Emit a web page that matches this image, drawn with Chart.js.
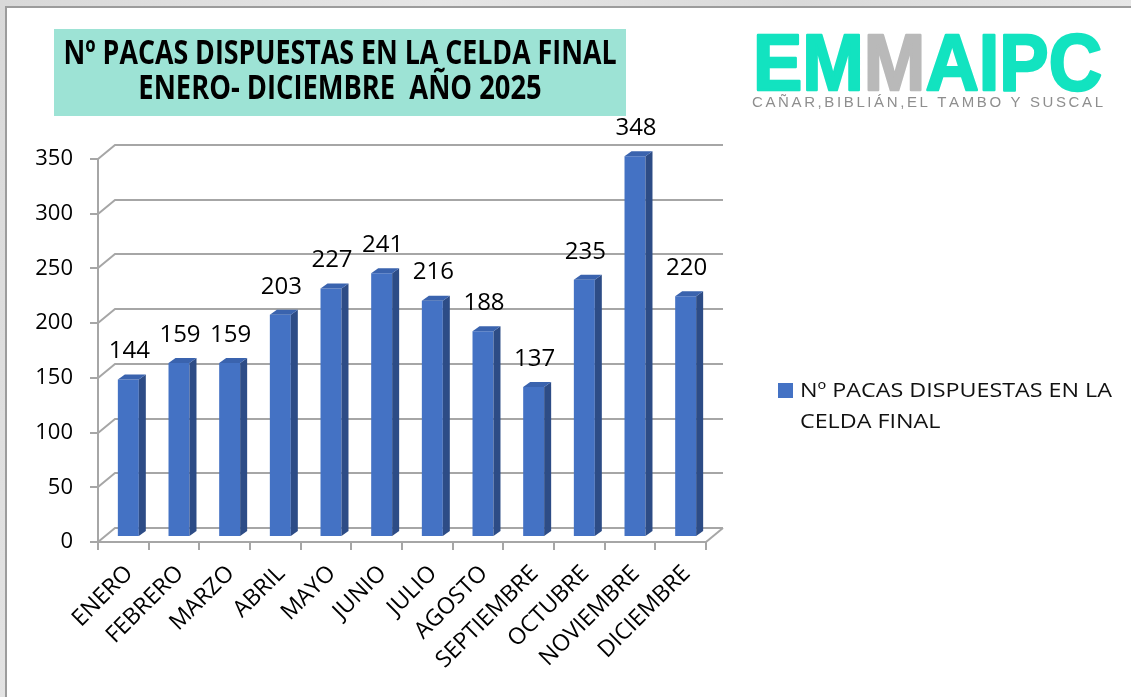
<!DOCTYPE html>
<html>
<head>
<meta charset="utf-8">
<script src="https://cdn.jsdelivr.net/npm/chart.js@4.4.1/dist/chart.umd.min.js"></script>
<style>
  html, body { margin: 0; padding: 0; width: 1131px; height: 697px; overflow: hidden; background: #dcdcdc; }
  #bg { position: absolute; left: 0; top: 0; width: 1131px; height: 697px;
        background: linear-gradient(115deg, #d9d9d9 0%, #e6e6e6 30%, #dadada 55%, #e8e8e8 80%, #dcdcdc 100%); }
  #panel { position: absolute; left: 5px; top: 6px; width: 1126px; height: 691px; background: #fff;
           border-left: 2px solid #9c9c9c; border-top: 2px solid #9c9c9c; box-sizing: border-box; }
  canvas { position: absolute; left: 0; top: 0; }
</style>
</head>
<body>
<div id="bg"></div>
<div id="panel"></div>
<canvas id="chart" width="1131" height="697"></canvas>
<script>
// ---------- data ----------
const categories = ['ENERO','FEBRERO','MARZO','ABRIL','MAYO','JUNIO','JULIO','AGOSTO','SEPTIEMBRE','OCTUBRE','NOVIEMBRE','DICIEMBRE'];
const pacas = [144, 159, 159, 203, 227, 241, 216, 188, 137, 235, 348, 220];
const yTickValues = [0, 50, 100, 150, 200, 250, 300, 350];
const seriesName = 'Nº PACAS DISPUESTAS EN LA CELDA FINAL';
const legendLines = ['Nº PACAS DISPUESTAS EN LA', 'CELDA FINAL'];
const titleLines = ['Nº PACAS DISPUESTAS EN LA CELDA FINAL', 'ENERO- DICIEMBRE  AÑO 2025'];
const logoLetters = ['E','M','M','A','I','P','C'];
const logoSubtitle = 'CAÑAR,BIBLIÁN,EL TAMBO Y SUSCAL';

// ---------- styles ----------
const FONT = '"Open Sans", "Liberation Sans", sans-serif';
const GRID = '#a6a6a6';
const FRONT = '#4472C4', SIDE = '#2D4C86', TOP = '#3A63AE';
const DEPTH = { dx: 17, dy: -14 };
const BAR_SHIFT = { dx: 5, dy: -5 };
const BAR_DEPTH = { dx: 7, dy: -5 };

function drawFit(ctx, text, o) {
  const size = o.cap / 0.714;
  ctx.font = `${o.weight || 'normal'} ${size}px ${o.family || FONT}`;
  const m = ctx.measureText(text).width;
  const sx = o.sx || (o.w ? o.w / m : 1);
  ctx.save();
  ctx.translate(o.x, o.y);
  ctx.scale(sx, 1);
  ctx.textAlign = o.align || 'left';
  ctx.textBaseline = 'alphabetic';
  ctx.fillStyle = o.color || '#000';
  ctx.fillText(text, 0, 0);
  ctx.restore();
  return sx;
}

const bars3d = {
  id: 'bars3d',
  beforeDatasetsDraw(chart) {
    const { ctx, chartArea: a, scales: { y } } = chart;
    ctx.save();
    ctx.strokeStyle = GRID;
    ctx.lineWidth = 2;
    y.ticks.forEach(t => {
      const py = Math.round(y.getPixelForValue(t.value));
      ctx.beginPath();
      ctx.moveTo(a.left, py);
      ctx.lineTo(a.left + DEPTH.dx, py + DEPTH.dy);
      ctx.lineTo(a.right + DEPTH.dx, py + DEPTH.dy);
      ctx.stroke();
    });
    ctx.beginPath();
    ctx.moveTo(a.right, a.bottom);
    ctx.lineTo(a.right + DEPTH.dx, a.bottom + DEPTH.dy);
    ctx.stroke();
    ctx.restore();
    ctx.save();
    ctx.translate(BAR_SHIFT.dx, BAR_SHIFT.dy);
  },
  afterDatasetsDraw(chart) {
    const ctx = chart.ctx;
    const meta = chart.getDatasetMeta(0);
    meta.data.forEach(bar => {
      const { x, y, base, width } = bar.getProps(['x', 'y', 'base', 'width'], true);
      const l = x - width / 2, r = x + width / 2;
      ctx.fillStyle = SIDE;
      ctx.beginPath();
      ctx.moveTo(r, y); ctx.lineTo(r + BAR_DEPTH.dx, y + BAR_DEPTH.dy);
      ctx.lineTo(r + BAR_DEPTH.dx, base + BAR_DEPTH.dy); ctx.lineTo(r, base);
      ctx.closePath(); ctx.fill();
      ctx.fillStyle = TOP;
      ctx.beginPath();
      ctx.moveTo(l, y); ctx.lineTo(l + BAR_DEPTH.dx, y + BAR_DEPTH.dy);
      ctx.lineTo(r + BAR_DEPTH.dx, y + BAR_DEPTH.dy); ctx.lineTo(r, y);
      ctx.closePath(); ctx.fill();
    });
    ctx.restore();
    // value labels
    ctx.save();
    ctx.font = `24px ${FONT}`;
    ctx.fillStyle = '#000';
    ctx.textAlign = 'center';
    ctx.textBaseline = 'middle';
    meta.data.forEach((bar, i) => {
      const { x, y } = bar.getProps(['x', 'y'], true);
      ctx.fillText(String(chart.data.datasets[0].data[i]), x + BAR_SHIFT.dx + 1, y + BAR_SHIFT.dy - 28);
    });
    ctx.restore();
  },
  afterDraw(chart) {
    const ctx = chart.ctx;
    // title box
    ctx.save();
    ctx.fillStyle = '#9DE3D5';
    ctx.fillRect(54, 29, 572, 87);
    ctx.restore();
    const sx = drawFit(ctx, titleLines[0], { x: 340, y: 64, w: 553, cap: 24, weight: 'bold', align: 'center' });
    drawFit(ctx, titleLines[1], { x: 340, y: 99, sx: sx * 1.02, cap: 24, weight: 'bold', align: 'center' });

    // legend
    ctx.save();
    ctx.fillStyle = chart.data.datasets[0].backgroundColor;
    ctx.fillRect(778, 383, 15, 15);
    ctx.restore();
    const lsx = drawFit(ctx, legendLines[0], { x: 800, y: 397, w: 312, cap: 14, color: '#111' });
    drawFit(ctx, legendLines[1], { x: 800, y: 428, sx: lsx, cap: 14, color: '#111' });

    // logo
    const LF = '"Liberation Sans", Arial, sans-serif';
    ctx.save();
    ctx.font = `bold 80px ${LF}`;
    const widths = logoLetters.map(c => ctx.measureText(c).width);
    const total = widths.reduce((s, v) => s + v, 0);
    const lx = 349 / total;
    ctx.translate(753, 90);
    ctx.scale(lx, 57 / (0.716 * 80));
    ctx.textBaseline = 'alphabetic';
    ctx.lineJoin = 'round';
    let cx = 0;
    logoLetters.forEach((c, i) => {
      const col = i === 2 ? '#B9B9B9' : '#12E3C0';
      ctx.fillStyle = col; ctx.strokeStyle = col; ctx.lineWidth = 2.5;
      ctx.fillText(c, cx, 0);
      ctx.strokeText(c, cx, 0);
      cx += widths[i];
    });
    ctx.restore();
    ctx.save();
    ctx.font = `15px ${LF}`;
    ctx.fillStyle = '#8E8E8E';
    ctx.textBaseline = 'alphabetic';
    const chars = Array.from(logoSubtitle);
    const cw = chars.map(c => ctx.measureText(c).width);
    const sumW = cw.reduce((s, v) => s + v, 0);
    const gap = (351 - sumW) / (chars.length - 1);
    let px = 752;
    chars.forEach((c, i) => { ctx.fillText(c, px, 107); px += cw[i] + gap; });
    ctx.restore();
  }
};

new Chart(document.getElementById('chart'), {
  type: 'bar',
  data: {
    labels: categories,
    datasets: [{
      label: seriesName,
      data: pacas,
      backgroundColor: FRONT,
      borderWidth: 0,
      barPercentage: 0.414,
      categoryPercentage: 1,
      clip: false
    }]
  },
  options: {
    responsive: false,
    animation: false,
    devicePixelRatio: 1,
    layout: { padding: { left: 0, top: 159, right: 1131 - 706, bottom: 0 } },
    plugins: { legend: { display: false }, tooltip: { enabled: false }, title: { display: false } },
    scales: {
      x: {
        offset: true,
        grid: { offset: true, drawOnChartArea: false, drawTicks: true, tickLength: 8, color: GRID, lineWidth: 2 },
        border: { display: true, color: GRID, width: 2 },
        ticks: { autoSkip: false, minRotation: 45, maxRotation: 45, padding: 10, labelOffset: 6, color: '#000', font: { family: FONT, size: 23 } },
        afterFit: s => { s.height = 697 - 542; s.paddingLeft = 0; s.paddingRight = 0; }
      },
      y: {
        min: 0, max: 350,
        afterBuildTicks: s => { s.ticks = yTickValues.map(v => ({ value: v })); },
        grid: { drawOnChartArea: false, drawTicks: true, tickLength: 8, color: GRID, lineWidth: 2 },
        border: { display: true, color: GRID, width: 2 },
        ticks: { padding: 17, color: '#000', font: { family: FONT, size: 22 } },
        afterFit: s => { s.width = 98; }
      }
    }
  },
  plugins: [bars3d]
});
</script>
</body>
</html>
